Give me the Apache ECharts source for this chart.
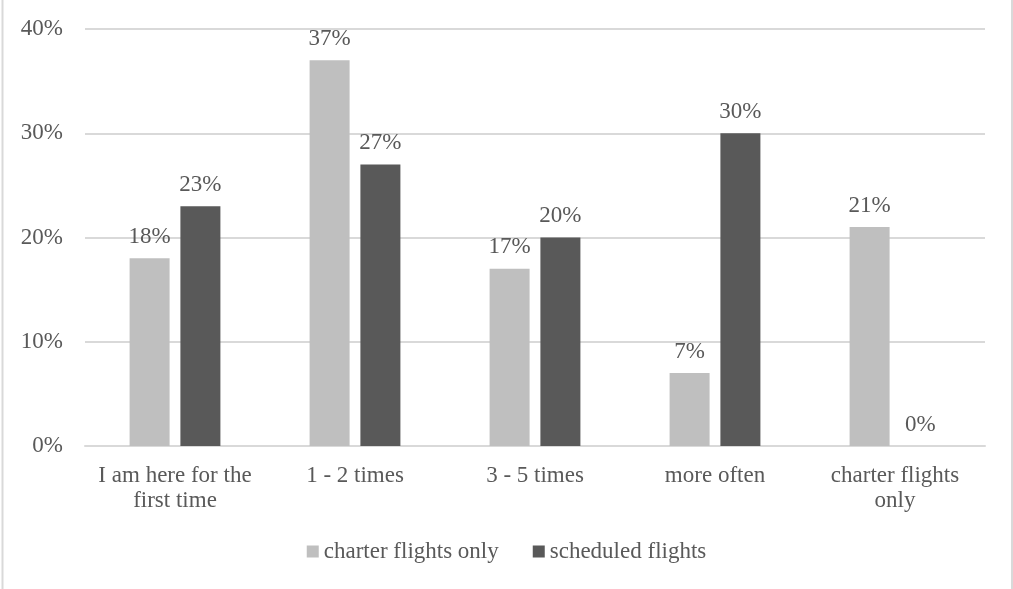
<!DOCTYPE html>
<html>
<head>
<meta charset="utf-8">
<script src="https://cdn.jsdelivr.net/npm/echarts@6/dist/echarts.min.js"></script>
<style>
  html, body { margin: 0; padding: 0; background: #fff; }
  #chart { width: 1013px; height: 589px; }
</style>
</head>
<body>
<div id="chart"></div>
<script>
// How often respondents have flown, by type of flight (percent)
const categories = [
  'I am here for the\nfirst time',
  '1 - 2 times',
  '3 - 5 times',
  'more often',
  'charter flights\nonly'
];
const charterFlights = [18, 37, 17, 7, 21];
const scheduledFlights = [23, 27, 20, 30, 0];
const yTicks = { min: 0, max: 40, interval: 10 };

const FONT = '"Liberation Serif", "Times New Roman", serif';
const TEXT = '#595959';
const SIZE = 23;

const chart = echarts.init(document.getElementById('chart'), null, { renderer: 'canvas' });

const barLabel = {
  show: true,
  position: 'top',
  distance: 10,
  formatter: p => p.value + '%',
  color: TEXT,
  fontFamily: FONT,
  fontSize: SIZE
};

chart.setOption({
  backgroundColor: '#fff',
  animation: false,
  graphic: [{
    type: 'rect',
    shape: { x: 2.5, y: -1, width: 1009.5, height: 600 },
    style: { fill: 'none', stroke: '#d9d9d9', lineWidth: 2 },
    silent: true
  }],
  grid: { left: 85, right: 28, top: 29, bottom: 143 },
  legend: {
    bottom: 21,
    left: 'center',
    itemWidth: 12,
    itemHeight: 12,
    itemGap: 34,
    icon: 'rect',
    textStyle: { color: TEXT, fontFamily: FONT, fontSize: SIZE },
    data: ['charter flights only', 'scheduled flights']
  },
  xAxis: {
    type: 'category',
    data: categories,
    axisLine: { lineStyle: { color: '#d9d9d9', width: 2 } },
    axisTick: { show: false },
    axisLabel: {
      color: TEXT,
      fontFamily: FONT,
      fontSize: SIZE,
      lineHeight: 25,
      margin: 17,
      interval: 0
    }
  },
  yAxis: {
    type: 'value',
    min: yTicks.min,
    max: yTicks.max,
    interval: yTicks.interval,
    axisLine: { show: false },
    axisTick: { show: false },
    splitLine: { lineStyle: { color: '#d9d9d9', width: 2 } },
    axisLabel: {
      formatter: v => v + '%',
      color: TEXT,
      fontFamily: FONT,
      fontSize: SIZE,
      margin: 22
    }
  },
  series: [
    {
      name: 'charter flights only',
      type: 'bar',
      data: charterFlights,
      barWidth: 40,
      barGap: '27%',
      itemStyle: { color: '#bfbfbf' },
      label: barLabel
    },
    {
      name: 'scheduled flights',
      type: 'bar',
      data: scheduledFlights,
      barWidth: 40,
      itemStyle: { color: '#595959' },
      label: barLabel
    }
  ]
});
</script>
</body>
</html>
